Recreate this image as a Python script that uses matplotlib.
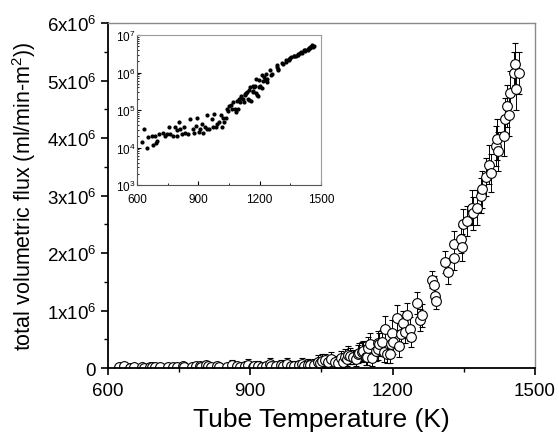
import numpy as np
import matplotlib
matplotlib.use("Agg")
import matplotlib.pyplot as plt
from matplotlib.ticker import MultipleLocator, FuncFormatter, LogLocator, NullFormatter

plt.rcParams['font.family'] = ['Liberation Sans', 'DejaVu Sans']
plt.rcParams['mathtext.default'] = 'regular'

# ---------------- DATA ----------------
# tube temperature (K)
temp = [
    623, 634, 647, 655, 672, 677, 688, 693, 699, 709,
    726, 737, 745, 758, 761, 778, 786, 794, 797, 807,
    810, 818, 830, 835, 851, 862, 872, 879, 889, 895,
    905, 908, 916, 924, 933, 941, 944, 954, 965, 970,
    977, 986, 993, 1003, 1009, 1014, 1022, 1025, 1035, 1042,
    1047, 1051, 1058, 1063, 1071, 1078, 1084, 1091, 1095, 1100,
    1103, 1107, 1110, 1117, 1123, 1128, 1130, 1136, 1138, 1144,
    1147, 1149, 1152, 1156, 1166, 1169, 1170, 1172, 1177, 1182,
    1184, 1188, 1194, 1196, 1198, 1201, 1210, 1214, 1218, 1221,
    1226, 1231, 1237, 1238, 1252, 1258, 1261, 1284, 1287, 1289,
    1291, 1310, 1317, 1329, 1330, 1345, 1346, 1348, 1356, 1367,
    1369, 1377, 1386, 1388, 1397, 1404, 1407, 1418, 1421, 1423,
    1435, 1437, 1442, 1446, 1447, 1456, 1458, 1460, 1467,
]

# total volumetric flux (ml/min-m^2)
flux = [
    1.4e4, 3.1e4, 9.8e3, 1.9e4, 2.0e4, 1.2e4, 2.1e4, 1.3e4, 1.5e4, 2.3e4,
    2.4e4, 2.1e4, 2.3e4, 3.5e4, 2.3e4, 2.1e4, 3.5e4, 3.0e4, 2.1e4, 4.7e4,
    3.1e4, 2.3e4, 3.5e4, 2.5e4, 2.3e4, 5.7e4, 3.2e4, 2.5e4, 3.8e4, 6.0e4,
    2.6e4, 3.2e4, 4.3e4, 2.5e4, 3.5e4, 7.4e4, 3.1e4, 3.2e4, 5.8e4, 3.5e4,
    7.8e4, 3.5e4, 4.3e4, 4.7e4, 7.4e4, 3.5e4, 6.3e4, 4.7e4, 6.3e4, 1.05e5,
    9.5e4, 1.26e5, 1.35e5, 1.1e5, 1.6e5, 1.1e5, 8.7e4, 1.74e5, 1.1e5, 2.0e5,
    1.6e5, 2.3e5, 2.1e5, 1.95e5, 1.6e5, 2.5e5, 2.7e5, 2.8e5, 3.0e5, 2.0e5,
    1.9e5, 3.5e5, 4.2e5, 1.75e5, 3.0e5, 4.3e5, 3.3e5, 4.2e5, 4.5e5, 2.8e5,
    6.8e5, 2.5e5, 2.4e5, 4.2e5, 6.2e5, 4.5e5, 8.8e5, 3.8e5, 5.9e5, 7.8e5,
    6.3e5, 9.2e5, 6.8e5, 5.5e5, 1.14e6, 8.4e5, 9.2e5, 1.54e6, 1.44e6, 1.26e6,
    1.17e6, 1.84e6, 1.67e6, 1.91e6, 2.16e6, 2.24e6, 2.10e6, 2.50e6, 2.56e6, 2.79e6,
    2.69e6, 2.79e6, 3.00e6, 3.11e6, 3.32e6, 3.54e6, 3.40e6, 3.87e6, 3.98e6, 3.77e6,
    4.04e6, 4.34e6, 4.56e6, 4.40e6, 4.79e6, 5.13e6, 5.29e6, 4.85e6, 5.13e6,
]

# error bars (same units)
flux_err = [
    2e4, 2e4, 2e4, 2e4, 2e4, 2e4, 2e4, 2e4, 2e4, 3e4,
    3e4, 3e4, 3e4, 4e4, 3e4, 3e4, 6e4, 4e4, 3e4, 8e4,
    5e4, 4e4, 7e4, 5e4, 4e4, 9e4, 6e4, 5e4, 7e4, 1.0e5,
    5e4, 6e4, 8e4, 5e4, 6e4, 1.0e5, 5e4, 6e4, 9e4, 6e4,
    1.0e5, 6e4, 8e4, 8e4, 1.0e5, 6e4, 9e4, 8e4, 9e4, 1.2e5,
    1.0e5, 1.2e5, 1.2e5, 1.1e5, 1.3e5, 1.0e5, 9e4, 1.3e5, 1.0e5, 1.4e5,
    1.2e5, 1.5e5, 1.4e5, 1.3e5, 1.2e5, 1.6e5, 1.6e5, 1.7e5, 1.8e5, 1.4e5,
    1.3e5, 1.9e5, 2.0e5, 1.3e5, 1.7e5, 2.1e5, 1.8e5, 2.0e5, 2.1e5, 1.7e5,
    2.2e5, 1.6e5, 1.5e5, 2.0e5, 2.2e5, 2.0e5, 2.2e5, 1.9e5, 2.0e5, 2.1e5,
    2.0e5, 2.2e5, 2.1e5, 1.9e5, 1.9e5, 1.9e5, 2.0e5, 1.5e5, 1.6e5, 1.5e5,
    1.4e5, 1.9e5, 2.0e5, 2.1e5, 2.2e5, 2.4e5, 2.3e5, 2.6e5, 2.6e5, 3.0e5,
    2.8e5, 3.0e5, 3.1e5, 3.2e5, 3.3e5, 3.4e5, 3.3e5, 3.5e5, 3.6e5, 3.4e5,
    3.5e5, 3.6e5, 3.7e5, 3.6e5, 3.8e5, 3.7e5, 3.7e5, 3.6e5, 3.7e5,
]

X_TICKS = [600, 900, 1200, 1500]
Y_TICKS = [0, 1e6, 2e6, 3e6, 4e6, 5e6, 6e6]
INSET_Y_TICKS = [1e3, 1e4, 1e5, 1e6, 1e7]


def sci_label(v, pos):
    if v == 0:
        return "0"
    return f"{int(round(v / 1e6))}x10$^{{6}}$"


fig = plt.figure(figsize=(5.59, 4.39), dpi=100)

# ---------------- MAIN PLOT ----------------
ax = fig.add_axes([0.193, 0.159, 0.764, 0.786])
ax.errorbar(temp, flux, yerr=flux_err, fmt="o", ms=7, mfc="white", mec="black",
            mew=0.8, ecolor="black", elinewidth=0.7, capsize=2.5, capthick=0.7)

ax.set_xlim(600, 1500)
ax.set_ylim(0, 6e6)
ax.set_xticks(X_TICKS)
ax.set_yticks(Y_TICKS)
ax.xaxis.set_minor_locator(MultipleLocator(150))
ax.yaxis.set_minor_locator(MultipleLocator(5e5))
ax.yaxis.set_major_formatter(FuncFormatter(sci_label))
ax.tick_params(which="major", direction="out", length=5, width=1.2, labelsize=13.5)
ax.tick_params(which="minor", direction="out", length=3, width=1.0)
ax.tick_params(axis="x", pad=5)

for side in ["left", "bottom"]:
    ax.spines[side].set_linewidth(1.3)
for side in ["top", "right"]:
    ax.spines[side].set_color("#8a8a8a")
    ax.spines[side].set_linewidth(1.0)

ax.set_xlabel("Tube Temperature (K)", fontsize=19, labelpad=6)
ax.set_ylabel("total volumetric flux (ml/min-m$^2$))", fontsize=15.5, labelpad=6)

# ---------------- INSET (log scale) ----------------
ins = fig.add_axes([0.245, 0.576, 0.329, 0.342])
ins.plot(temp, flux, "o", ms=2, color="black")
ins.set_yscale("log")
ins.set_xlim(600, 1500)
ins.set_ylim(1e3, 1e7)
ins.set_xticks(X_TICKS)
ins.set_yticks(INSET_Y_TICKS)
ins.yaxis.set_major_formatter(FuncFormatter(lambda v, p: f"10$^{{{int(round(np.log10(v)))}}}$"))
ins.yaxis.set_minor_locator(LogLocator(base=10, subs=np.arange(2, 10)))
ins.yaxis.set_minor_formatter(NullFormatter())
ins.xaxis.set_minor_locator(MultipleLocator(150))
ins.tick_params(which="major", direction="in", length=3, width=0.8, labelsize=8.5)
ins.tick_params(axis="y", pad=1)
ins.tick_params(axis="x", pad=6)
ins.tick_params(which="minor", direction="in", length=1.5, width=0.6)
for side in ["left", "bottom"]:
    ins.spines[side].set_color("#555555")
for side in ["top", "right"]:
    ins.spines[side].set_color("#9a9a9a")

fig.savefig("out.png", dpi=100)
